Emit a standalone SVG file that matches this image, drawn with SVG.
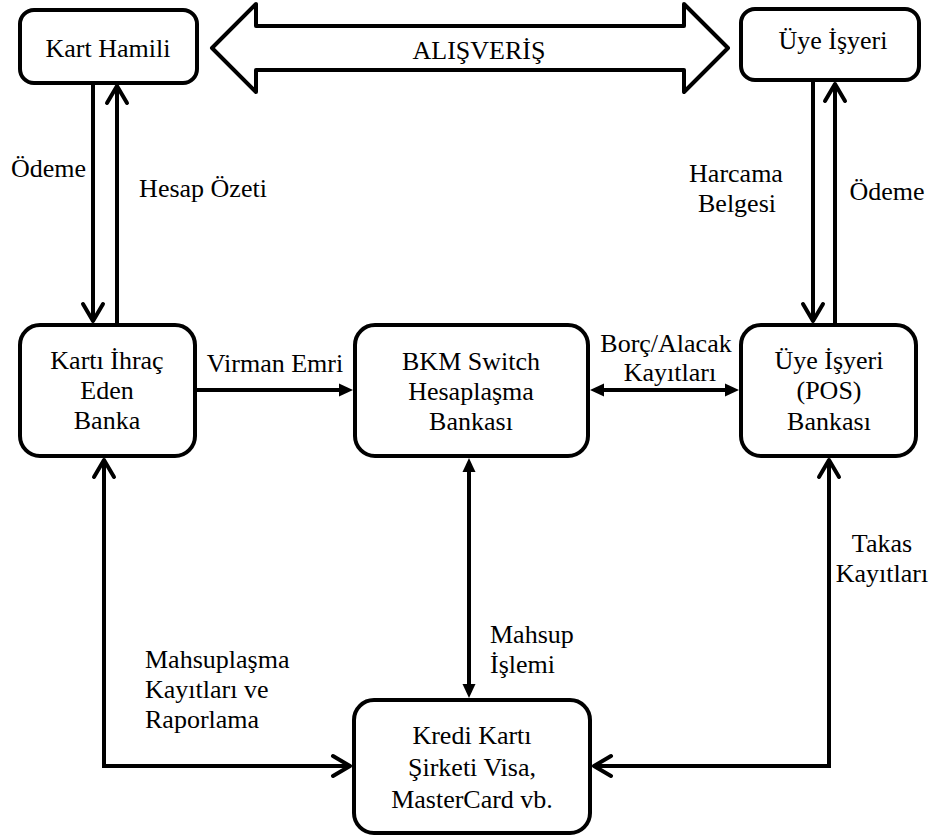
<svg xmlns="http://www.w3.org/2000/svg" width="936" height="839" viewBox="0 0 936 839">
<defs>
<style>
.box{fill:#fff;stroke:#000;stroke-width:4}
.t{font-size:26px;fill:#000}
.m{text-anchor:middle}
.c{fill:none;stroke:#000;stroke-width:4}
</style>
<marker id="chev" markerUnits="userSpaceOnUse" viewBox="-20 -13 24 26" refX="0" refY="0" markerWidth="24" markerHeight="26" orient="auto-start-reverse" overflow="visible">
<path d="M-17,-10 L0,0 L-17,10" fill="none" stroke="#000" stroke-width="4" stroke-linecap="round" stroke-linejoin="round"/>
</marker>
<marker id="tri" markerUnits="userSpaceOnUse" viewBox="0 -7 15 14" refX="0" refY="0" markerWidth="15" markerHeight="14" orient="auto-start-reverse" overflow="visible">
<path d="M0,-6.5 L14,0 L0,6.5 Z" fill="#000"/>
</marker>
</defs>
<rect width="936" height="839" fill="#fff"/>

<g id="connectors">
<polygon points="212,48 256,4 256,26 684,26 684,4 728,48 684,92 684,70 256,70 256,92" fill="#fff" stroke="#000" stroke-width="4" stroke-linejoin="round"/>
<line class="c" x1="93" y1="83" x2="93" y2="321" marker-end="url(#chev)"/>
<line class="c" x1="117" y1="323" x2="117" y2="86" marker-end="url(#chev)"/>
<line class="c" x1="813" y1="80" x2="813" y2="321" marker-end="url(#chev)"/>
<line class="c" x1="835" y1="323" x2="835" y2="84" marker-end="url(#chev)"/>
<line class="c" x1="195" y1="390" x2="339" y2="390" marker-end="url(#tri)"/>
<line class="c" x1="604" y1="390" x2="725" y2="390" marker-start="url(#tri)" marker-end="url(#tri)"/>
<line class="c" x1="469" y1="472" x2="469" y2="684" marker-start="url(#tri)" marker-end="url(#tri)"/>
<path class="c" d="M104,460 L104,766 L350,766" marker-start="url(#chev)" marker-end="url(#chev)"/>
<path class="c" d="M829,460 L829,766 L594,766" marker-start="url(#chev)" marker-end="url(#chev)"/>
<g font-family="Liberation Serif">
<text class="t m" font-family="Liberation Serif" x="479" y="59">ALIŞVERİŞ</text>
<text class="t m" font-family="Liberation Serif" x="48.5" y="177">Ödeme</text>
<text class="t m" font-family="Liberation Serif" x="203" y="197">Hesap Özeti</text>
<text class="t m" font-family="Liberation Serif" x="736" y="182">Harcama</text>
<text class="t m" font-family="Liberation Serif" x="737" y="212">Belgesi</text>
<text class="t m" font-family="Liberation Serif" x="887" y="200">Ödeme</text>
<text class="t m" font-family="Liberation Serif" x="275" y="372">Virman Emri</text>
<text class="t m" font-family="Liberation Serif" x="666" y="352">Borç/Alacak</text>
<text class="t m" font-family="Liberation Serif" x="670" y="381">Kayıtları</text>
<text class="t" font-family="Liberation Serif" x="490" y="643">Mahsup</text>
<text class="t" font-family="Liberation Serif" x="490" y="673">İşlemi</text>
<text class="t" font-family="Liberation Serif" x="145" y="668">Mahsuplaşma</text>
<text class="t" font-family="Liberation Serif" x="145" y="698">Kayıtları ve</text>
<text class="t" font-family="Liberation Serif" x="145" y="728">Raporlama</text>
<text class="t m" font-family="Liberation Serif" x="882" y="552">Takas</text>
<text class="t m" font-family="Liberation Serif" x="882" y="582">Kayıtları</text>
</g>
</g>

<g id="kart-hamili" font-family="Liberation Serif">
<rect class="box" x="20" y="10" width="177" height="73" rx="14"/>
<text class="t m" font-family="Liberation Serif" x="108" y="57">Kart Hamili</text>
</g>
<g id="uye-isyeri" font-family="Liberation Serif">
<rect class="box" x="741" y="9" width="178" height="71" rx="14"/>
<text class="t m" font-family="Liberation Serif" x="833" y="49">Üye İşyeri</text>
</g>
<g id="karti-ihrac" font-family="Liberation Serif">
<rect class="box" x="20" y="325" width="175" height="131" rx="20"/>
<text class="t m" font-family="Liberation Serif" x="107" y="369">Kartı İhraç</text>
<text class="t m" font-family="Liberation Serif" x="107" y="399">Eden</text>
<text class="t m" font-family="Liberation Serif" x="107" y="429">Banka</text>
</g>
<g id="bkm" font-family="Liberation Serif">
<rect class="box" x="355" y="325" width="233" height="131" rx="20"/>
<text class="t m" font-family="Liberation Serif" x="471" y="370">BKM Switch</text>
<text class="t m" font-family="Liberation Serif" x="471" y="400">Hesaplaşma</text>
<text class="t m" font-family="Liberation Serif" x="471" y="430">Bankası</text>
</g>
<g id="pos-bankasi" font-family="Liberation Serif">
<rect class="box" x="741" y="325" width="175" height="131" rx="20"/>
<text class="t m" font-family="Liberation Serif" x="829" y="369">Üye İşyeri</text>
<text class="t m" font-family="Liberation Serif" x="829" y="399">(POS)</text>
<text class="t m" font-family="Liberation Serif" x="829" y="430">Bankası</text>
</g>
<g id="kredi-karti" font-family="Liberation Serif">
<rect class="box" x="354" y="700" width="236" height="133" rx="20"/>
<text class="t m" font-family="Liberation Serif" x="472" y="744">Kredi Kartı</text>
<text class="t m" font-family="Liberation Serif" x="472" y="776">Şirketi Visa,</text>
<text class="t m" font-family="Liberation Serif" x="472" y="808">MasterCard vb.</text>
</g>
</svg>
